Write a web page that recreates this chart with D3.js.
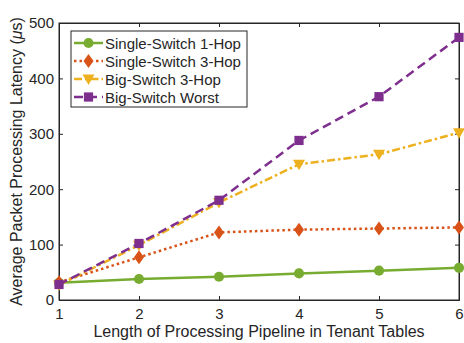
<!doctype html>
<html>
<head>
<meta charset='utf-8'>
<script src='https://cdn.jsdelivr.net/npm/d3@7'></script>
<style>
  html,body{margin:0;background:white;}
  text{font-family:'Liberation Sans',Arial,sans-serif;fill:#262626;}
</style>
</head>
<body>
<svg id='chart' width='464' height='343'></svg>
<script>
  // data
  var pipeline = [1,2,3,4,5,6]
  var single1Hop = [31,38,42,48,53,58]
  var single3Hop = [32,77,122,127,129,131]
  var big3Hop    = [27,99,176,245,263,302]
  var bigWorst   = [28,102,180,288,367,474]
  var yTicks = [0,100,200,300,400,500]

  var series = [
    {name:'Single-Switch 1-Hop', values:single1Hop, color:'#77AC30', dash:null, marker:'circle'},
    {name:'Single-Switch 3-Hop', values:single3Hop, color:'#D95319', dash:'2.5,3', marker:'diamond'},
    {name:'Big-Switch 3-Hop',    values:big3Hop,    color:'#EDB120', dash:'8,3,2.5,3', marker:'triangle'},
    {name:'Big-Switch Worst',    values:bigWorst,   color:'#7E2F8E', dash:'9,5', marker:'square'}
  ]

  var m = {l:59, r:5, t:23, b:43}
  var W = 464, H = 343
  var svg = d3.select('#chart')

  var x = d3.scaleLinear().domain([1,6]).range([m.l, W-m.r])
  var y = d3.scaleLinear().domain([0,500]).range([H-m.b, m.t])

  var g = svg.append('g')

  // box
  g.append('rect')
   .attr('x',m.l).attr('y',m.t)
   .attr('width',W-m.r-m.l).attr('height',H-m.b-m.t)
   .attr('fill','white').attr('stroke','#262626').attr('stroke-width',1)

  g.append('g').attr('transform','translate(0,'+(H-m.b)+')')
    .call(d3.axisBottom(x).tickValues(pipeline).tickSize(-4).tickPadding(8).tickFormat(d3.format('d')))
  g.append('g').attr('transform','translate('+m.l+',0)')
    .call(d3.axisLeft(y).tickValues(yTicks).tickSize(-4).tickPadding(5))
  g.append('g').attr('transform','translate(0,'+m.t+')')
    .call(d3.axisTop(x).tickValues(pipeline).tickSize(-4).tickFormat(''))
  g.append('g').attr('transform','translate('+(W-m.r)+',0)')
    .call(d3.axisRight(y).tickValues(yTicks).tickSize(-4).tickFormat(''))

  g.selectAll('.domain').attr('stroke','#262626')
  g.selectAll('.tick line').attr('stroke','#262626')
  g.selectAll('.tick text').style('font-size','15px').attr('fill','#262626')
   .style('font-family',"'Liberation Sans',Arial,sans-serif")

  // axis labels
  svg.append('text')
     .attr('x',(m.l+W-m.r)/2).attr('y',337)
     .attr('text-anchor','middle').style('font-size','16px')
     .text('Length of Processing Pipeline in Tenant Tables')

  var yl = svg.append('text')
     .attr('transform','translate(22,'+((m.t+H-m.b)/2)+') rotate(-90)')
     .attr('text-anchor','middle').style('font-size','16px')
  yl.append('tspan').text('Average Packet Processing Latency (')
  yl.append('tspan').style('font-style','italic').text('\u03bc')
  yl.append('tspan').text('s)')

  function markerPath(type){
    if(type=='circle') return d3.symbol(d3.symbolCircle,80)()
    if(type=='square') return d3.symbol(d3.symbolSquare,85)()
    if(type=='diamond') return 'M0,-7L5,0L0,7L-5,0Z'
    if(type=='triangle') return 'M-6,-4.5L6,-4.5L0,6Z'
  }

  var line = d3.line().x(function(d,i){return x(pipeline[i])}).y(function(d){return y(d)})

  series.forEach(function(s){
    g.append('path').attr('d',line(s.values))
     .attr('fill','none').attr('stroke',s.color).attr('stroke-width',2.5)
     .attr('stroke-dasharray',s.dash)
    g.selectAll(null).data(s.values).enter().append('path')
     .attr('d',markerPath(s.marker))
     .attr('transform',function(d,i){return 'translate('+x(pipeline[i])+','+y(d)+')'})
     .attr('fill',s.color)
  })

  // legend
  var lg = svg.append('g')
  lg.append('rect').attr('x',71).attr('y',31).attr('width',176).attr('height',76)
    .attr('fill','white').attr('stroke','#262626').attr('stroke-width',1)
  series.forEach(function(s,i){
    var ly = 43 + i*18
    lg.append('line').attr('x1',74).attr('x2',103).attr('y1',ly).attr('y2',ly)
      .attr('stroke',s.color).attr('stroke-width',2.5).attr('stroke-dasharray',s.dash)
    lg.append('path').attr('d',markerPath(s.marker))
      .attr('transform','translate(88.5,'+ly+')').attr('fill',s.color)
    lg.append('text').attr('x',105).attr('y',ly+5.5).style('font-size','15px').text(s.name)
  })
</script>
</body>
</html>
